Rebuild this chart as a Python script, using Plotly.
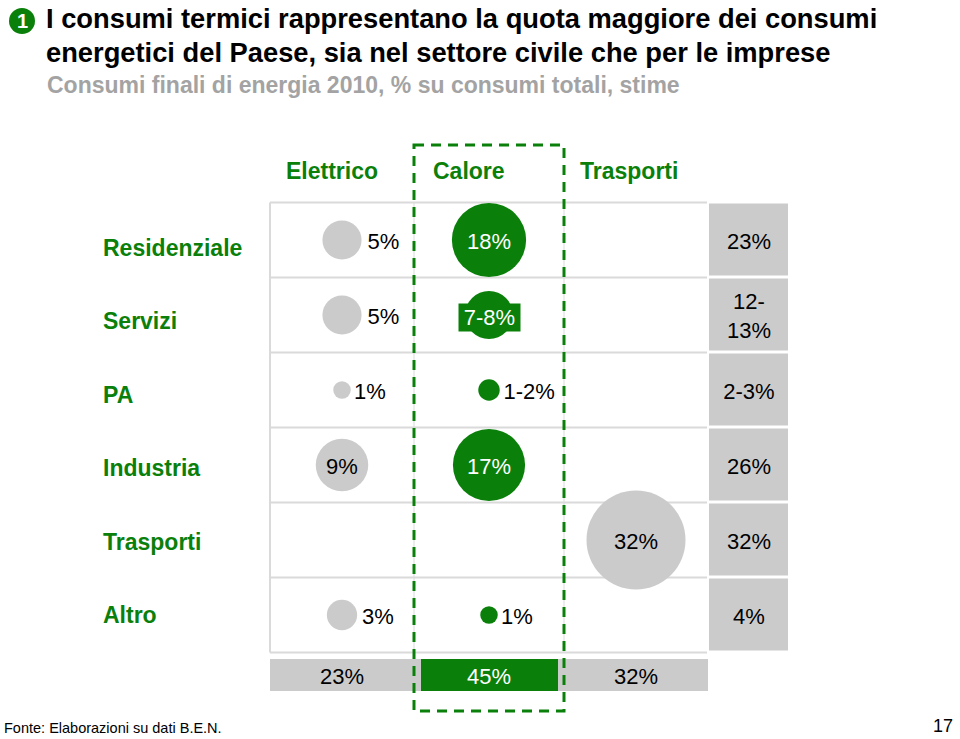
import plotly.graph_objects as go

# ---------------- data ----------------
rows = ["Residenziale", "Servizi", "PA", "Industria", "Trasporti", "Altro"]
cols = ["Elettrico", "Calore", "Trasporti"]

elettrico_vals = [5, 5, 1, 9, None, 3]
elettrico_labels = ["5%", "5%", "1%", "9%", "", "3%"]
calore_vals = [18, 7.5, 1.5, 17, None, 1]
calore_labels = ["18%", "7-8%", "1-2%", "17%", "", "1%"]
trasporti_vals = [None, None, None, None, 32, None]
trasporti_labels = ["", "", "", "", "32%", ""]

row_totals = ["23%", "12-<br>13%", "2-3%", "26%", "32%", "4%"]
col_totals = ["23%", "45%", "32%"]

title_1 = "I consumi termici rappresentano la quota maggiore dei consumi"
title_2 = "energetici del Paese, sia nel settore civile che per le imprese"
subtitle = "Consumi finali di energia 2010, % su consumi totali, stime"
source = "Fonte: Elaborazioni su dati B.E.N."
page_no = "17"

# ---------------- style ----------------
W, H = 960, 739
GREEN = "#0a800a"
GREY = "#cbcbcb"
GRID = "#dadada"
FONT = "Liberation Sans, Arial, sans-serif"

# axis mapping: column i centred at 342 + 147*i px, row j centred at 240 + 75*j px
X0, XS = 342, 147
Y0, YS = 240, 75
TXT_DY = 3 / YS  # text sits a little below the bubble centre


def px_x(p):
    return (p - X0) / XS


def px_y(p):
    return (p - Y0) / YS


K = 17.5  # diameter = K*sqrt(value)
sizeref = 2.0 / (K * K)

fig = go.Figure()
annotations = []


def add_column(ci, vals, labels, color, inside_color):
    xs, ys, sz, txt, pos, tcol = [], [], [], [], [], []
    for ri, (v, lab) in enumerate(zip(vals, labels)):
        if v is None:
            continue
        xs.append(ci)
        ys.append(ri)
        sz.append(v)
        if v >= 9:
            txt.append(lab)
            pos.append("middle center")
            tcol.append(inside_color)
        elif v >= 6:
            txt.append("")
            pos.append("middle center")
            tcol.append(inside_color)
            annotations.append(dict(
                x=ci, y=ri, xref="x", yref="y", text=lab, showarrow=False,
                font=dict(family=FONT, size=22, color=inside_color),
                bgcolor=color, width=61, height=27, borderpad=0,
                xanchor="center", yanchor="middle", yshift=-2))
        else:
            txt.append(lab)
            pos.append("middle right")
            tcol.append("black")
    marker = dict(size=sz, sizemode="area", sizeref=sizeref,
                  color=color, line=dict(width=0), opacity=1)
    fig.add_trace(go.Scatter(
        x=xs, y=ys, mode="markers", marker=marker,
        hoverinfo="skip", showlegend=False, cliponaxis=False))
    # labels (invisible markers keep the label offset tied to bubble size)
    fig.add_trace(go.Scatter(
        x=xs, y=[y + TXT_DY for y in ys], mode="markers+text", text=txt,
        textposition=pos, textfont=dict(family=FONT, size=22, color=tcol),
        marker=dict(marker, color="rgba(0,0,0,0)"),
        hoverinfo="skip", showlegend=False, cliponaxis=False))


add_column(0, elettrico_vals, elettrico_labels, GREY, "black")
add_column(1, calore_vals, calore_labels, GREEN, "white")
add_column(2, trasporti_vals, trasporti_labels, GREY, "black")

shapes = []
left_px, right_px = 270, 707
# horizontal grid lines
for r in range(len(rows) + 1):
    shapes.append(dict(type="line", xref="x", yref="y",
                       x0=px_x(left_px), x1=px_x(right_px), y0=r - 0.5, y1=r - 0.5,
                       line=dict(color=GRID, width=2), layer="below"))
# vertical grid lines
for xp in [left_px, 414, 564]:
    shapes.append(dict(type="line", xref="x", yref="y",
                       x0=px_x(xp), x1=px_x(xp), y0=-0.5, y1=len(rows) - 0.5,
                       line=dict(color=GRID, width=2 if xp == left_px else 1), layer="below"))
# right total cells
for r in range(len(rows)):
    shapes.append(dict(type="rect", xref="x", yref="y",
                       x0=px_x(709), x1=px_x(788), y0=r - 0.5 + 1 / YS, y1=r + 0.5 - 2 / YS,
                       fillcolor=GREY, line=dict(width=0), layer="below"))
# bottom totals bar
shapes.append(dict(type="rect", xref="x", yref="y",
                   x0=px_x(270), x1=px_x(708), y0=px_y(659), y1=px_y(691),
                   fillcolor=GREY, line=dict(width=0), layer="below"))
shapes.append(dict(type="rect", xref="x", yref="y",
                   x0=px_x(421), x1=px_x(558), y0=px_y(659), y1=px_y(691),
                   fillcolor=GREEN, line=dict(width=0), layer="below"))
# dashed highlight around Calore
shapes.append(dict(type="rect", xref="x", yref="y",
                   x0=px_x(414), x1=px_x(564), y0=px_y(145), y1=px_y(711),
                   line=dict(color=GREEN, width=3, dash="10px,7px"),
                   fillcolor="rgba(0,0,0,0)", layer="above"))
# numbered circle
shapes.append(dict(type="circle", xref="paper", yref="paper",
                   x0=9 / W, x1=35 / W, y0=1 - 34 / H, y1=1 - 8 / H,
                   fillcolor=GREEN, line=dict(width=0)))

# right column totals
fig.add_trace(go.Scatter(
    x=[px_x(749)] * len(rows), y=[r + TXT_DY for r in range(len(rows))], mode="text",
    text=row_totals, textposition="middle center",
    textfont=dict(family=FONT, size=22, color="black"),
    hoverinfo="skip", showlegend=False, cliponaxis=False))
# bottom totals
fig.add_trace(go.Scatter(
    x=list(range(len(cols))), y=[px_y(678)] * len(cols), mode="text",
    text=col_totals, textposition="middle center",
    textfont=dict(family=FONT, size=22, color=["black", "white", "black"]),
    hoverinfo="skip", showlegend=False, cliponaxis=False))

# column headers
for ci, c in enumerate(cols):
    annotations.append(dict(x=ci - 58 / XS, y=px_y(171), xref="x", yref="y",
                            text="<b>%s</b>" % c, showarrow=False, xanchor="left",
                            yanchor="middle",
                            font=dict(family=FONT, size=23, color=GREEN)))
# row labels
for ri, r in enumerate(rows):
    annotations.append(dict(x=px_x(101), y=px_y(248 + 73.4 * ri), xref="x", yref="y",
                            text="<b>%s</b>" % r, showarrow=False, xanchor="left",
                            yanchor="middle",
                            font=dict(family=FONT, size=23, color=GREEN)))

# titles
annotations += [
    dict(x=22 / W, y=1 - 21 / H, xref="paper", yref="paper", text="<b>1</b>",
         showarrow=False, xanchor="center", yanchor="middle",
         font=dict(family=FONT, size=20, color="white")),
    dict(x=44 / W, y=1 - 19 / H, xref="paper", yref="paper", text="<b>%s</b>" % title_1,
         showarrow=False, xanchor="left", yanchor="middle",
         font=dict(family=FONT, size=27.3, color="black")),
    dict(x=44 / W, y=1 - 52 / H, xref="paper", yref="paper", text="<b>%s</b>" % title_2,
         showarrow=False, xanchor="left", yanchor="middle",
         font=dict(family=FONT, size=27.3, color="black")),
    dict(x=45 / W, y=1 - 85 / H, xref="paper", yref="paper", text="<b>%s</b>" % subtitle,
         showarrow=False, xanchor="left", yanchor="middle",
         font=dict(family=FONT, size=23, color="#a3a3a3")),
    dict(x=2 / W, y=1 - 728 / H, xref="paper", yref="paper", text=source,
         showarrow=False, xanchor="left", yanchor="middle",
         font=dict(family=FONT, size=14.5, color="black")),
    dict(x=955 / W, y=1 - 726 / H, xref="paper", yref="paper", text=page_no,
         showarrow=False, xanchor="right", yanchor="middle",
         font=dict(family=FONT, size=18, color="black")),
]

fig.update_layout(
    width=W, height=H, margin=dict(l=0, r=0, t=0, b=0),
    paper_bgcolor="white", plot_bgcolor="white",
    xaxis=dict(range=[px_x(0), px_x(W)], visible=False, fixedrange=True),
    yaxis=dict(range=[px_y(H), px_y(0)], visible=False, fixedrange=True),
    shapes=shapes, annotations=annotations, showlegend=False,
)

fig.write_html(
    "out.html",
    config={"displayModeBar": False},
    post_script="document.body.style.margin='0';document.body.style.overflow='hidden';",
)
